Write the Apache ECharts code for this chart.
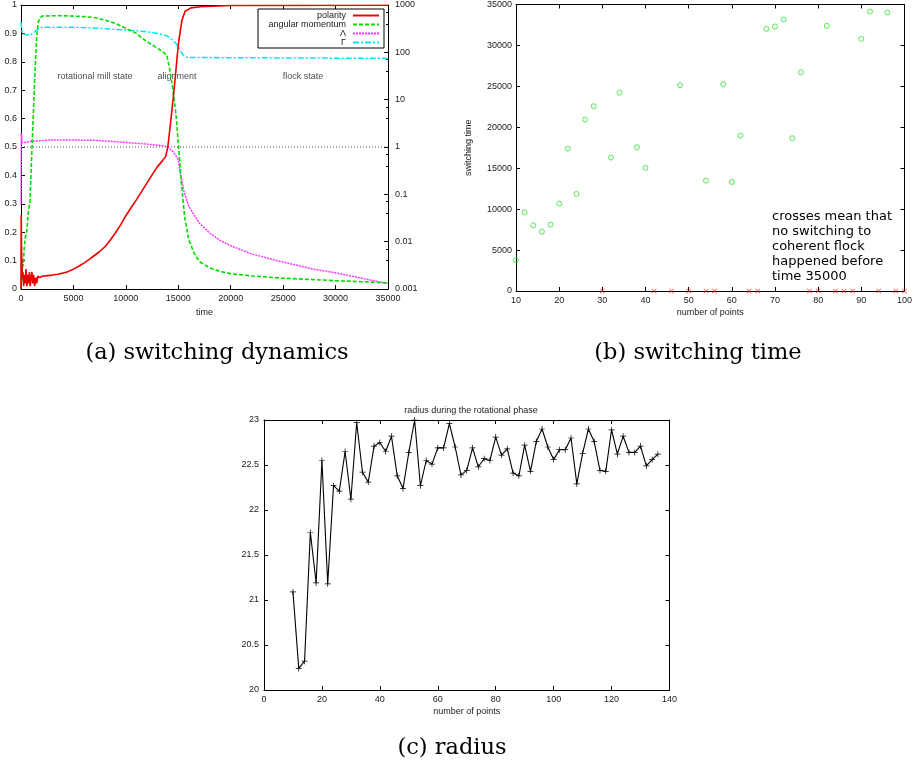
<!DOCTYPE html>
<html><head><meta charset="utf-8">
<script src="https://cdn.jsdelivr.net/npm/echarts@6/dist/echarts.min.js"></script>
<style>html,body{margin:0;padding:0;background:#fff}#c{width:915px;height:771px}</style>
</head><body><div id="c"></div>
<script>
// ---- Panel (a): switching dynamics (time series) ----
const polarity = [[0,0.0],[20,0.26],[50,0.15],[80,0.1],[120,0.04],[180,0.06],[250,0.01],[320,0.05],[400,0.02],[480,0.07],[560,0.01],[640,0.05],[720,0.02],[800,0.06],[880,0.01],[960,0.04],[1040,0.06],[1120,0.02],[1200,0.05],[1300,0.01],[1400,0.04],[1500,0.02],[1600,0.045],[1800,0.04],[2000,0.045],[2500,0.047],[3000,0.049],[3500,0.052],[4000,0.056],[4400,0.06],[5000,0.07],[5500,0.08],[6000,0.091],[6500,0.104],[7000,0.118],[7500,0.132],[8000,0.148],[8500,0.172],[9000,0.197],[9500,0.226],[10000,0.258],[10500,0.286],[11000,0.314],[11500,0.343],[12000,0.373],[12500,0.402],[13000,0.43],[13500,0.452],[13800,0.467],[14000,0.5],[14250,0.58],[14540,0.68],[14800,0.78],[15000,0.86],[15340,0.945],[15650,0.978],[16200,0.99],[17100,0.994],[20000,0.998],[35000,0.999]];
const angularMomentum = [[0,0.0],[50,0.09],[100,0.03],[150,0.1],[220,0.08],[300,0.14],[400,0.18],[540,0.2],[700,0.27],[860,0.31],[950,0.4],[1020,0.47],[1180,0.62],[1350,0.78],[1500,0.89],[1650,0.94],[1810,0.953],[2000,0.961],[3000,0.962],[4000,0.962],[5000,0.961],[6000,0.959],[7000,0.956],[8000,0.947],[9000,0.935],[10000,0.918],[11000,0.9],[12000,0.871],[13000,0.848],[13500,0.836],[13900,0.824],[14200,0.77],[14500,0.7],[14800,0.607],[15000,0.513],[15300,0.373],[15600,0.256],[16000,0.174],[16500,0.127],[17000,0.097],[18000,0.074],[19000,0.062],[20000,0.054],[22000,0.046],[25000,0.038],[28000,0.033],[30000,0.029],[33000,0.025],[35000,0.021]];
const lambda = [[0,0.06],[30,2.0],[100,1.23],[200,1.23],[1000,1.32],[3000,1.41],[7000,1.39],[10000,1.25],[12000,1.15],[13500,1.07],[14000,1.0],[14500,0.8],[15000,0.54],[15200,0.28],[15500,0.124],[16000,0.056],[17000,0.0247],[18000,0.0152],[19000,0.0106],[20000,0.0082],[22000,0.0055],[25000,0.0037],[28000,0.0026],[30000,0.0022],[33000,0.0016],[35000,0.0013]];
const gamma = [[0,437],[100,280],[200,251],[500,231],[900,231],[1200,260],[1500,296],[2000,340],[5000,340],[7000,327],[9000,305],[10000,296],[12000,273],[13000,251],[13800,228],[14200,204],[14500,178],[14800,151],[15000,131],[15300,98],[15600,81],[16000,78],[20000,77],[35000,74.5]];
const referenceLine = [[0,1],[35000,1]];
const stateLabels = [[7057,0.747,'rotational mill state'],[14877,0.747,'alignment'],[26894,0.747,'flock state']];

// ---- Panel (b): switching time ----
const switchN = [10,12,14,16,18,20,22,24,26,28,32,34,38,40,48,54,58,60,62,68,70,72,74,76,82,90,92,96];
const switchT = [3750,9600,8030,7250,8110,10680,17400,11860,20940,22570,16300,24240,17560,15040,25140,13490,25260,13320,18990,32030,32310,33170,18660,26730,32390,30800,34140,34020];
const noSwitchN = [30,42,46,50,54,56,64,66,78,80,84,86,88,94,98,100];

// ---- Panel (c): radius ----
const radiusN = [10,12,14,16,18,20,22,24,26,28,30,32,34,36,38,40,42,44,46,48,50,52,54,56,58,60,62,64,66,68,70,72,74,76,78,80,82,84,86,88,90,92,94,96,98,100,102,104,106,108,110,112,114,116,118,120,122,124,126,128,130,132,134,136];
const radiusR = [21.09,20.24,20.32,21.75,21.19,22.55,21.18,22.27,22.21,22.65,22.12,22.97,22.42,22.31,22.71,22.75,22.65,22.82,22.38,22.24,22.64,23.0,22.27,22.55,22.51,22.69,22.69,22.96,22.70,22.39,22.44,22.69,22.48,22.57,22.55,22.81,22.61,22.68,22.41,22.38,22.72,22.43,22.76,22.90,22.70,22.56,22.67,22.67,22.80,22.29,22.63,22.90,22.76,22.44,22.43,22.89,22.62,22.82,22.64,22.64,22.71,22.49,22.56,22.62];

const FONT = 'Liberation Sans';
const TXT = '#1a1a1a';
const plain = v => String(+(+v).toPrecision(6));
const lab = (extra) => Object.assign({fontFamily: FONT, fontSize: 9, color: TXT}, extra || {});
const tick = () => ({inside: true, length: 4, lineStyle: {color: '#000', width: 1}});
const frame = () => ({show: true, onZero: false, lineStyle: {color: '#000', width: 1}});
function mainX(grid, min, max, interval, name, gap) {
  return {gridIndex: grid, type: 'value', min, max, interval, name, nameLocation: 'middle', nameGap: gap,
    nameTextStyle: lab(), axisLabel: lab({margin: 5, formatter: plain}), axisLine: frame(), axisTick: tick(), splitLine: {show: false}};
}
function mirror(grid, min, max, interval, pos) {
  return {gridIndex: grid, type: 'value', min, max, interval, position: pos,
    axisLabel: {show: false}, axisLine: frame(), axisTick: tick(), splitLine: {show: false}};
}
const plus = 'path://M-1,-0.12 L-0.12,-0.12 L-0.12,-1 L0.12,-1 L0.12,-0.12 L1,-0.12 L1,0.12 L0.12,0.12 L0.12,1 L-0.12,1 L-0.12,0.12 L-1,0.12 Z';
const cross = 'path://M-1,-0.8 L-0.8,-1 L0,-0.2 L0.8,-1 L1,-0.8 L0.2,0 L1,0.8 L0.8,1 L0,0.2 L-0.8,1 L-1,0.8 L-0.2,0 Z';
const capStyle = {fontFamily: 'DejaVu Serif', fontSize: 22.5, fontWeight: 'normal', color: '#000'};

const chart = echarts.init(document.getElementById('c'), null, {renderer: 'canvas'});
const option = {
  animation: false,
  backgroundColor: '#fff',
  title: [
    {text: 'radius during the rotational phase', left: 466, top: 401, textAlign: 'center', textStyle: lab({fontWeight: 'normal'})},
    {text: '(a) switching dynamics', left: 212, top: 337, textAlign: 'center', textStyle: capStyle},
    {text: '(b) switching time', left: 693, top: 337, textAlign: 'center', textStyle: capStyle},
    {text: '(c) radius', left: 447, top: 732, textAlign: 'center', textStyle: capStyle}
  ],
  legend: {
    data: ['polarity', 'angular momentum', 'Λ', 'Γ'],
    orient: 'vertical', left: 258, top: 9, align: 'right',
    itemWidth: 26, itemHeight: 6, itemGap: 0, padding: [2, 4, 1, 4],
    borderColor: '#000', borderWidth: 1, backgroundColor: '#fff',
    itemStyle: {opacity: 0},
    textStyle: lab({width: 84, align: 'right', lineHeight: 9, padding: [0, 2, 0, 0]}),
    selectedMode: false
  },
  grid: [
    {left: 21, top: 5, width: 367, height: 284, show: false},
    {left: 516, top: 4, width: 390, height: 287, show: false},
    {left: 264, top: 420, width: 405.5, height: 270, show: false}
  ],
  xAxis: [
    mainX(0, 0, 35000, 5000, 'time', 19),
    mirror(0, 0, 35000, 5000, 'top'),
    mainX(1, 10, 100, 10, 'number of points', 17),
    mirror(1, 10, 100, 10, 'top'),
    mainX(2, 0, 140, 20, 'number of points', 17),
    mirror(2, 0, 140, 20, 'top')
  ],
  yAxis: [
    {gridIndex: 0, type: 'value', min: 0, max: 1, interval: 0.1, position: 'left', axisLabel: lab({margin: 4, formatter: plain}), axisLine: frame(), axisTick: tick(), splitLine: {show: false}},
    {gridIndex: 0, type: 'log', logBase: 10, min: 0.001, max: 1000, position: 'right',
      axisLabel: lab({margin: 7, formatter: plain}), axisLine: frame(), axisTick: tick(),
      minorTick: {show: true, splitNumber: 3, length: 2, lineStyle: {color: '#000'}}, splitLine: {show: false}},
    {gridIndex: 1, type: 'value', min: 0, max: 35000, interval: 5000, position: 'left', name: 'switching time', nameLocation: 'middle', nameGap: 43, nameTextStyle: lab(),
      axisLabel: lab({margin: 4, formatter: plain}), axisLine: frame(), axisTick: tick(), splitLine: {show: false}},
    mirror(1, 0, 35000, 5000, 'right'),
    {gridIndex: 2, type: 'value', min: 20, max: 23, interval: 0.5, position: 'left', axisLabel: lab({margin: 5, formatter: plain}), axisLine: frame(), axisTick: tick(), splitLine: {show: false}},
    mirror(2, 20, 23, 0.5, 'right')
  ],
  graphic: [
    {type: 'text', left: 772, top: 209, style: {text: 'crosses mean that\nno switching to\ncoherent flock\nhappened before\ntime 35000', font: '13px "DejaVu Sans"', lineHeight: 15, fill: '#000'}}
  ],
  series: [
    {name: 'reference', type: 'line', xAxisIndex: 0, yAxisIndex: 1, data: referenceLine, symbol: 'none', silent: true,
      lineStyle: {color: '#555', width: 1, type: [1, 2]}, z: 1},
    {name: 'Γ', type: 'line', xAxisIndex: 0, yAxisIndex: 1, data: gamma, symbol: 'none',
      lineStyle: {color: '#00e8f0', width: 1.5, type: [6, 2, 2, 2]}, itemStyle: {color: '#00e8f0'}},
    {name: 'Λ', type: 'line', xAxisIndex: 0, yAxisIndex: 1, data: lambda, symbol: 'none',
      lineStyle: {color: '#ff33ff', width: 1.5, type: [2, 1]}, itemStyle: {color: '#ff33ff'}},
    {name: 'angular momentum', type: 'line', xAxisIndex: 0, yAxisIndex: 0, data: angularMomentum, symbol: 'none',
      lineStyle: {color: '#00dd00', width: 1.6, type: [4, 2]}, itemStyle: {color: '#00dd00'}},
    {name: 'polarity', type: 'line', xAxisIndex: 0, yAxisIndex: 0, data: polarity, symbol: 'none',
      lineStyle: {color: '#ee0000', width: 1.6}, itemStyle: {color: '#ee0000'}},
    {name: 'states', type: 'scatter', xAxisIndex: 0, yAxisIndex: 0, symbolSize: 0, silent: true,
      data: stateLabels.map(d => ({value: [d[0], d[1]], name: d[2]})),
      label: {show: true, position: 'inside', formatter: p => p.name, fontFamily: FONT, fontSize: 9, color: TXT}},
    {name: 'switching', type: 'scatter', xAxisIndex: 2, yAxisIndex: 2, symbol: 'circle', symbolSize: 5,
      data: switchN.map((n, i) => [n, switchT[i]]), itemStyle: {color: 'rgba(0,0,0,0)', borderColor: '#2fe02f', borderWidth: 1}, z: 4},
    {name: 'no switching', type: 'scatter', xAxisIndex: 2, yAxisIndex: 2, symbol: cross, symbolSize: 5,
      data: noSwitchN.map(n => [n, 0]), itemStyle: {color: '#ee2222'}, z: 5},
    {name: 'radius', type: 'line', xAxisIndex: 4, yAxisIndex: 4, data: radiusN.map((n, i) => [n, radiusR[i]]),
      symbol: plus, symbolSize: 6, showSymbol: true, lineStyle: {color: '#000', width: 1.1}, itemStyle: {color: '#000'}}
  ]
};
chart.setOption(option);
</script></body></html>
